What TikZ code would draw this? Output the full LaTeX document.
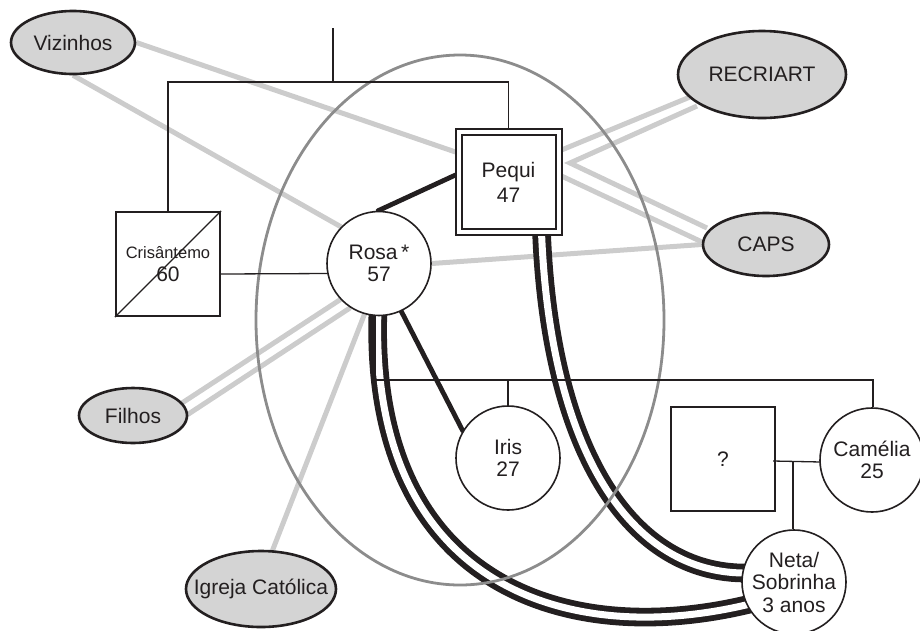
\documentclass[tikz,border=0pt]{standalone}
\usepackage{fontspec}
\setmainfont{Liberation Sans}
\usetikzlibrary{shapes.geometric,calc}
\definecolor{efill}{RGB}{212,212,212}
\definecolor{gline}{RGB}{204,204,204}
\definecolor{bigell}{RGB}{140,140,140}
\definecolor{ink}{RGB}{35,31,32}
\pgfdeclarelayer{bg}
\pgfdeclarelayer{mid}
\pgfsetlayers{bg,mid,main}
\begin{document}
\begin{tikzpicture}[x=1pt,y=-1pt,
  every node/.style={font=\fontsize{21}{22.5}\selectfont, text=ink},
  person/.style={circle, draw=ink, line width=1.6pt, fill=white, minimum size=104pt, inner sep=0pt, align=center},
  sq/.style={rectangle, draw=ink, line width=1.6pt, minimum size=104.5pt, inner sep=0pt, align=center},
  ext/.style={ellipse, draw=ink, line width=2.6pt, fill=efill, inner sep=0pt},
  gl/.style={draw=gline, line width=5pt},
  gen/.style={draw=ink, line width=1.3pt},
  bond/.style={draw=ink, line width=4.8pt, line cap=round},
  strong/.style={draw=ink, line width=5.8pt, double=white, double distance=7pt},
]
\useasboundingbox (0,0) rectangle (920,630);

% external systems
\node[ext, minimum width=124pt, minimum height=63pt] (viz) at (73,42.5) {\makebox[0pt]{Vizinhos}};
\node[ext, minimum width=168pt, minimum height=87pt] (rec) at (762,74.5) {\makebox[0pt]{RECRIART}};
\node[ext, minimum width=126pt, minimum height=63pt] (caps) at (766,244.5) {\makebox[0pt]{CAPS}};
\node[ext, minimum width=108pt, minimum height=55pt] (fil) at (133,415.5) {\makebox[0pt]{Filhos}};
\node[ext, minimum width=150pt, minimum height=76pt] (igr) at (261,589) {\makebox[0pt]{Igreja Católica}};

% persons
\node[person] (rosa) at (379,263.5) {Rosa\,*\\57};
\node[person] (iris) at (508,458) {Iris\\27};
\node[person] (cam) at (872,460) {Camélia\\25};
\node[person] (neta) at (794,582) {Neta/\\Sobrinha\\3 anos};
\node[sq, fill=white] (cri) at (168,264) {{\fontsize{16.5}{20}\selectfont Crisântemo}\\60};
\draw[ink, line width=1.3pt] (cri.south west) -- (cri.north east);
\node[sq] (unk) at (723,459) {?};
\node[sq, double, double distance=4pt, line width=2pt, minimum size=100pt, fill=white,
      font=\fontsize{21}{25}\selectfont] (pq) at (508.5,182) {Pequi\\47};

% grey relations
\begin{pgfonlayer}{bg}
\draw[gl] (viz.east) -- ($(pq.center)+(-53,-30)$);
\draw[gl] (viz.south) -- (rosa.136);
\draw[gl] ($(pq.center)+(53,-32)$) -- ($(rec.center)+(-72,22.5)$);
\coordinate (apex) at ($(pq.center)+(61.5,-19)$);
\draw[gl] ($(rec.center)+(-65,31.5)$) -- (apex) -- ($(caps.center)+(-59,-16.5)$);
\draw[gl] ($(pq.center)+(53,-6)$) -- ($(caps.center)+(-64,-2.5)$);
\draw[gl] (rosa.east) -- (caps.west);
\draw[gl] ($(fil.center)+(45.3,-10.1)$) -- (rosa.223);
\draw[gl] ($(fil.center)+(50.3,1.9)$) -- (rosa.237);
\draw[gl] ($(igr.center)+(10.2,-35.3)$) -- (rosa.254);
\end{pgfonlayer}

\begin{pgfonlayer}{mid}
% strong bonds
\draw[strong] ($(rosa.center)+(-1,47)$) .. controls (368,580) and (560,650) .. ($(neta.center)+(-44,22)$);
\draw[strong] ($(pq.center)+(33,50)$) .. controls (550,450) and (630,575) .. ($(neta.center)+(-46,-9)$);
% family ellipse
\node[ellipse, draw=bigell, line width=2.8pt, minimum width=408pt, minimum height=530pt, inner sep=0pt] (fam) at (460,320) {};
% genealogy
\coordinate (top) at (333,28);
\coordinate (jn) at (333,82);
\draw[gen] (top) -- (jn);
\draw[gen] (cri.north) |- (jn) -| (pq.north);
\draw[gen] ($(cri.east)+(0,10)$) -- ($(rosa.west)+(3,10)$);
\coordinate (sib) at (873,380);
\draw[gen] ($(rosa.center)+(-4,50)$) |- (sib) -- (sib|-cam.north);
\draw[gen] (iris.north) -- (iris.north|-sib);
\draw[gen] ($(unk.east)+(-3,2)$) -- ($(cam.west)+(2,2)$);
\coordinate (nj) at (793,461);
\draw[gen] (nj) -- (nj|-neta.north);
% close bonds
\draw[bond] (rosa.91) -- ($(pq.center)+(-53,-7)$);
\draw[bond] (rosa.-65) -- (iris.149);
\end{pgfonlayer}
\end{tikzpicture}
\end{document}
